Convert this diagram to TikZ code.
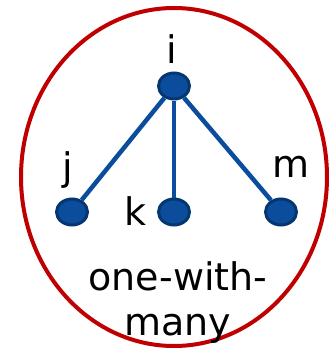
\documentclass[tikz,border=0pt]{standalone}
\usepackage{fontspec}
\setmainfont{DejaVu Sans}
\definecolor{rojo}{HTML}{C00000}
\definecolor{azul}{HTML}{0B4D9C}
\definecolor{azuloscuro}{HTML}{04366F}
\tikzset{
  punto/.style={ellipse, draw=azuloscuro, fill=azul, line width=3pt,
    minimum width=31pt, minimum height=26pt, inner sep=0pt},
  arista/.style={draw=azul, line width=4.5pt},
  etiqueta/.style={anchor=base, inner sep=0pt, font=\fontsize{38}{45}\selectfont}
}
\usetikzlibrary{shapes.geometric}
\begin{document}
\begin{tikzpicture}[x=1pt, y=-1pt]

  \useasboundingbox (0,0) rectangle (333,349);

  % Elipse grande
  \draw[rojo, line width=4pt] (174,177) ellipse (153pt and 169pt);

  % Puntos
  \node[punto] (ni) at (174,86) {};
  \node[punto] (nj) at (72,212) {};
  \node[punto] (nk) at (174,212) {};
  \node[punto] (nm) at (281,212) {};

  % Aristas
  \draw[arista] (ni) -- (nj);
  \draw[arista] (ni) -- (nk);
  \draw[arista] (ni) -- (nm);

  % Etiquetas
  \node[etiqueta] (li) at (172,63) {i};
  \node[etiqueta] (lj) at (68,180) {j};
  \node[etiqueta] (lk) at (136,225) {k};
  \node[etiqueta] (lm) at (291,177) {m};

  % Texto
  \node[etiqueta] (t1) at (178,290) {one-with-};
  \node[etiqueta] (t2) at (178,335) {many};

\end{tikzpicture}
\end{document}
